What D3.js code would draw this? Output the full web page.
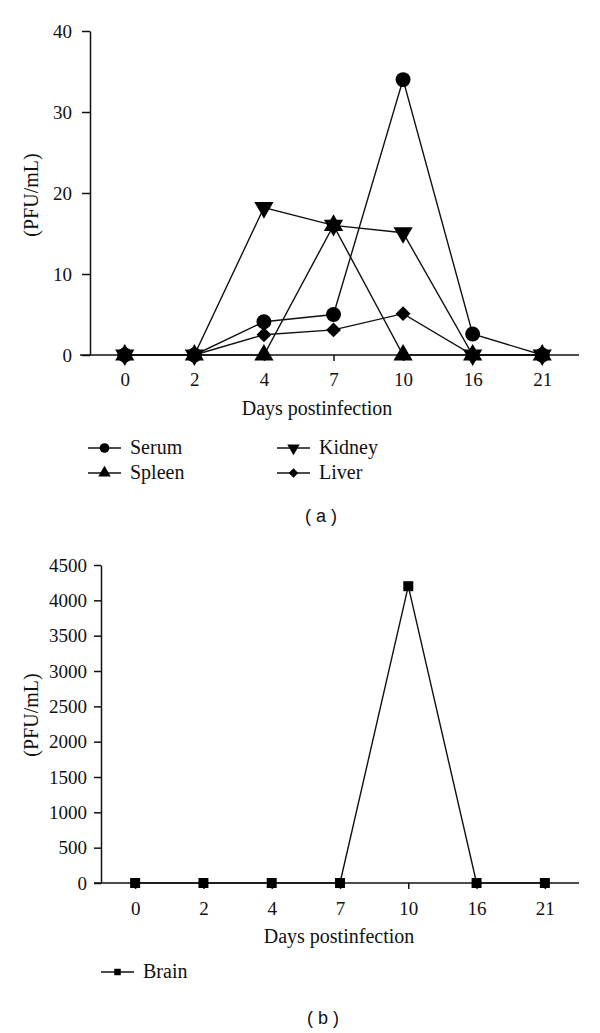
<!DOCTYPE html>
<html>
<head>
<meta charset="utf-8">
<script src="https://cdn.jsdelivr.net/npm/d3@7"></script>
<style>
  body { margin: 0; background: #fff; }
</style>
</head>
<body>
<div id="chart"></div>
<script>
// Data
const days = ["0", "2", "4", "7", "10", "16", "21"];
const serum  = [0, 0, 4.1, 5.0, 34, 2.6, 0];
const kidney = [0, 0, 18.2, 16, 15.1, 0, 0];
const spleen = [0, 0, 0, 16, 0, 0, 0];
const liver  = [0, 0, 2.5, 3.1, 5.1, 0, 0];
const brain  = [0, 0, 0, 0, 4200, 0, 0];
const topTicks = [0, 10, 20, 30, 40];
const bottomTicks = [0, 500, 1000, 1500, 2000, 2500, 3000, 3500, 4000, 4500];

const serif = "'Liberation Serif', 'DejaVu Serif', serif";
const sans = "'Liberation Sans', Arial, sans-serif";
const ink = "#111";

const svg = d3.select("#chart").append("svg")
    .attr("width", 600)
    .attr("height", 1033);

// marker shapes
const sym = {
  circle:   { type: d3.symbolCircle,   size: 175, rot: 0 },
  triUp:    { type: d3.symbolTriangle, size: 160, rot: 0 },
  triDown:  { type: d3.symbolTriangle, size: 160, rot: 180 },
  diamond:  { type: d3.symbolSquare,   size: 110, rot: 45 },
  square:   { type: d3.symbolSquare,   size: 100, rot: 0 }
};

function drawPanel(opts) {
  const g = svg.append("g");
  const x = d3.scalePoint().domain(days).range([opts.x0, opts.x1]).padding(0.5);
  const y = d3.scaleLinear().domain([0, opts.yMax]).range([opts.yBase, opts.yTop]);

  // y axis
  const ya = g.append("g")
    .attr("transform", `translate(${opts.x0},0)`)
    .call(d3.axisLeft(y).tickValues(opts.ticks).tickFormat(d3.format("d"))
      .tickSize(opts.yTickSize).tickPadding(opts.yTickPad).tickSizeOuter(0));
  ya.attr("font-family", serif).attr("font-size", 19);
  ya.select(".domain").attr("stroke", ink).attr("stroke-width", 1.5);
  ya.selectAll(".tick line").attr("stroke", ink).attr("stroke-width", 1.5);
  ya.selectAll("text").attr("fill", ink);

  // x axis
  const xa = g.append("g")
    .attr("transform", `translate(0,${opts.yBase})`)
    .call(d3.axisBottom(x).tickSize(6).tickPadding(opts.xTickPad).tickSizeOuter(0));
  xa.attr("font-family", serif).attr("font-size", 19);
  xa.select(".domain").remove();
  xa.append("line")
    .attr("x1", opts.axisStart).attr("x2", opts.axisEnd)
    .attr("stroke", ink).attr("stroke-width", 1.5);
  xa.selectAll(".tick line").attr("stroke", ink).attr("stroke-width", 1.5);
  xa.selectAll("text").attr("fill", ink);

  // axis titles
  g.append("text")
    .attr("transform", `translate(38,${opts.yLabelY}) rotate(-90)`)
    .attr("text-anchor", "middle")
    .attr("font-family", serif).attr("font-size", 20).attr("fill", ink)
    .text("(PFU/mL)");
  g.append("text")
    .attr("x", opts.titleX)
    .attr("y", opts.yBase + 60)
    .attr("text-anchor", "middle")
    .attr("font-family", serif).attr("font-size", 20).attr("fill", ink)
    .text("Days postinfection");

  const line = d3.line().x((d, i) => x(days[i])).y(d => y(d));

  opts.series.forEach(s => {
    g.append("path")
      .datum(s.values)
      .attr("d", line)
      .attr("fill", "none")
      .attr("stroke", ink)
      .attr("stroke-width", 1.4);
  });
  opts.series.forEach(s => {
    const m = sym[s.marker];
    g.append("g").selectAll("path")
      .data(s.values)
      .join("path")
      .attr("d", d3.symbol().type(m.type).size(m.size))
      .attr("transform", (d, i) => `translate(${x(days[i])},${y(d)}) rotate(${m.rot})`)
      .attr("fill", "#000");
  });

  // legend
  opts.series.forEach((s, i) => {
    const [lx, ly] = opts.legend[i];
    const m = sym[s.marker];
    const lg = g.append("g").attr("transform", `translate(${lx},${ly})`);
    lg.append("line").attr("x1", 0).attr("x2", 33)
      .attr("stroke", ink).attr("stroke-width", 1.5);
    lg.append("path")
      .attr("d", d3.symbol().type(m.type).size(m.size * 0.42))
      .attr("transform", `translate(16.5,0) rotate(${m.rot})`)
      .attr("fill", "#000");
    lg.append("text")
      .attr("x", 42).attr("y", 6)
      .attr("font-family", serif).attr("font-size", 20).attr("fill", ink)
      .text(s.name);
  });

  g.append("text")
    .attr("x", opts.capX).attr("y", opts.capY)
    .attr("text-anchor", "middle")
    .attr("font-family", sans).attr("font-size", 18).attr("fill", ink)
    .attr("xml:space", "preserve")
    .text(opts.caption);
}

drawPanel({
  x0: 90, x1: 577, axisStart: 80, axisEnd: 579,
  yBase: 355, yTop: 31, yMax: 40, ticks: topTicks,
  yTickSize: 8, yTickPad: 10, xTickPad: 12,
  yLabelY: 195, titleX: 317,
  series: [
    { name: "Serum",  values: serum,  marker: "circle" },
    { name: "Kidney", values: kidney, marker: "triDown" },
    { name: "Spleen", values: spleen, marker: "triUp" },
    { name: "Liver",  values: liver,  marker: "diamond" }
  ],
  legend: [[88, 448], [277, 448], [88, 473], [277, 473]],
  caption: "( a )", capX: 321, capY: 522
});

drawPanel({
  x0: 101, x1: 579, axisStart: 94, axisEnd: 579,
  yBase: 883, yTop: 565, yMax: 4500, ticks: bottomTicks,
  yTickSize: 7, yTickPad: 7, xTickPad: 13,
  yLabelY: 715, titleX: 339,
  series: [
    { name: "Brain", values: brain, marker: "square" }
  ],
  legend: [[101, 972]],
  caption: "( b )", capX: 323, capY: 1024
});
</script>
</body>
</html>
